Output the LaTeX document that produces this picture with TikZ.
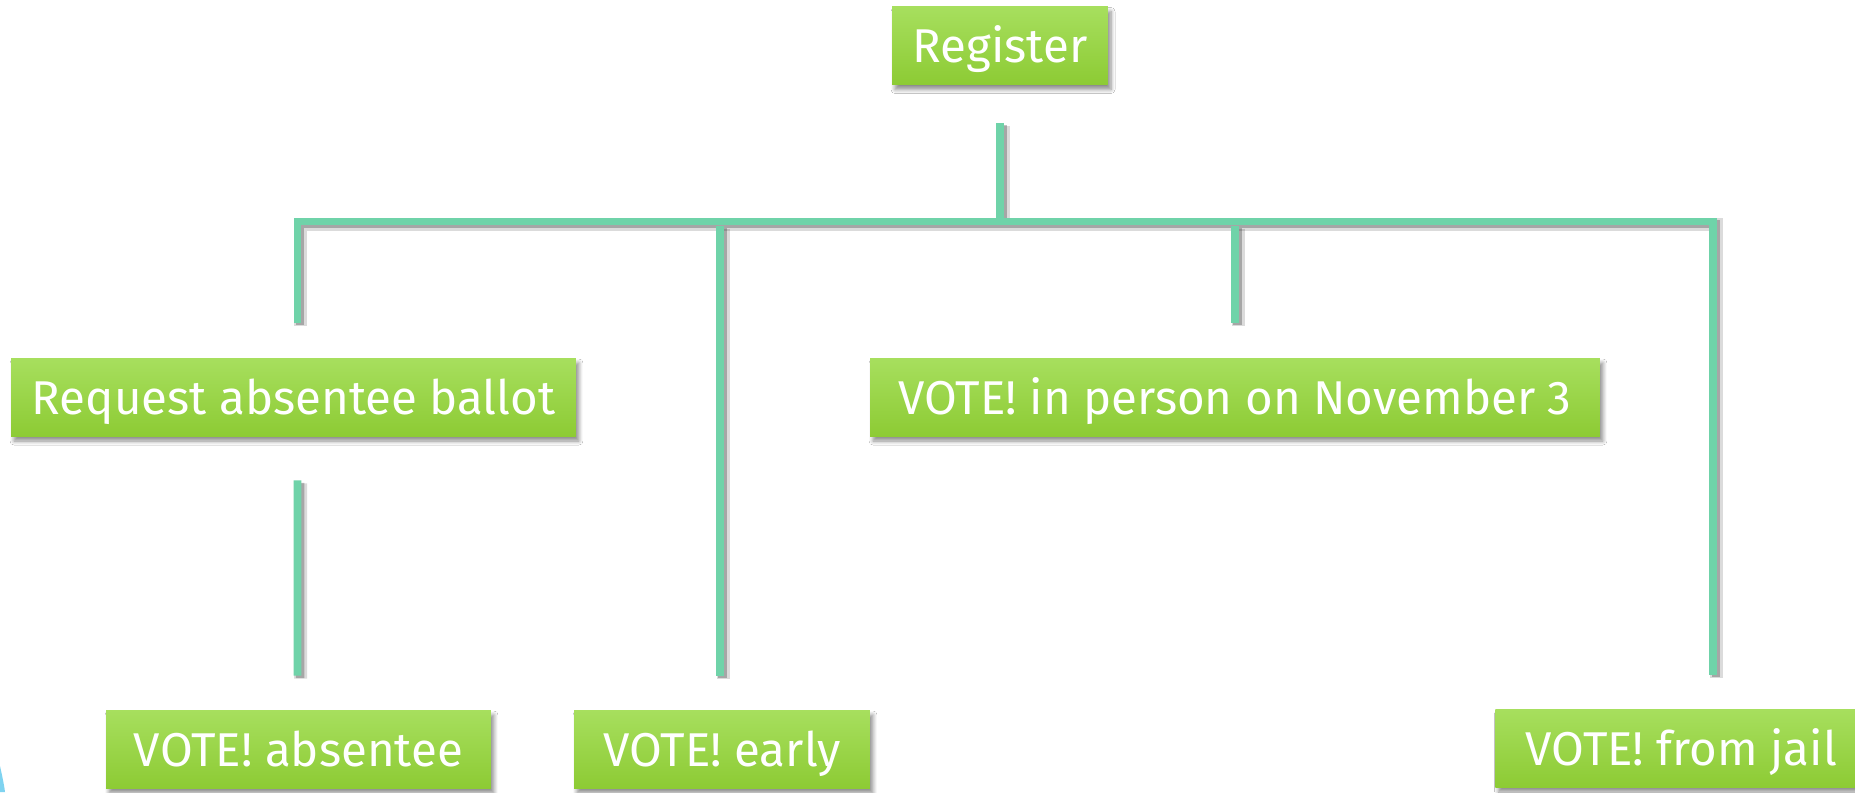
\documentclass[tikz,border=0pt]{standalone}
\usepackage{fontspec}
\setmainfont{Fira Sans}
\usetikzlibrary{shadows.blur}

\definecolor{leafTop}{HTML}{A7DF5E}
\definecolor{leafBottom}{HTML}{8DCB34}
\definecolor{stemGreen}{HTML}{6FD3A9}
\definecolor{skyBlue}{HTML}{7FD3F0}

\tikzset{
    leaf/.style={rectangle, top color=leafTop, bottom color=leafBottom,
        text=white, font=\fontsize{27}{30}\selectfont, minimum height=1.56cm,
        text height=0.68cm, text depth=0pt, inner xsep=0pt,
        blur shadow={shadow xshift=0.06cm, shadow yshift=-0.1cm,
            shadow blur radius=0.08cm, shadow blur steps=6, shadow opacity=45}},
    stem/.style={stemGreen, line width=0.155cm, line join=miter,
        preaction={draw, black, opacity=0.14, line width=0.26cm,
            transform canvas={shift={(0.06cm,-0.06cm)}}},
        preaction={draw, black, opacity=0.24, line width=0.17cm,
            transform canvas={shift={(0.05cm,-0.05cm)}}}},
}

\begin{document}
\begin{tikzpicture}[x=0.02cm, y=-0.02cm]
    \useasboundingbox (0,0) rectangle (1855,792);
    \fill[white] (0,0) rectangle (1855,792);

    %\draw[very thin, gray!30] (0,0) grid[step=100] (1855,792);
    \fill[skyBlue] (0,766) .. controls (2,775) and (4,784) .. (5,792) -- (0,792) -- cycle;

    \node[leaf, minimum width=4.32cm] (register) at (1000,45.5) {Register};
    \node[leaf, minimum width=11.3cm] (absReq) at (293.5,397) {Request absentee ballot};
    \node[leaf, minimum width=14.6cm] (inPerson) at (1235,397) {VOTE! in person on November 3};
    \node[leaf, minimum width=7.7cm] (voteAbs) at (298.5,749) {VOTE! absentee};
    \node[leaf, minimum width=5.92cm] (voteEarly) at (722,749) {VOTE! early};
    \node[leaf, minimum width=7.44cm, anchor=west] (voteJail) at (1495,748) {VOTE! from jail};

    \coordinate (bus) at (1000,221.5);

    \draw[stem, shorten <=0.76cm, shorten >=0.08cm] (register) -- (register |- bus);
    \draw[stem, shorten <=0.7cm, shorten >=0.68cm] ([xshift=0.08cm]absReq.north) |- (bus) -| ([xshift=0.64cm]voteJail.north);
    \draw[stem, shorten <=0.08cm, shorten >=0.7cm] (inPerson |- bus) -- (inPerson);
    \draw[stem, shorten <=0.08cm, shorten >=0.68cm] ([xshift=-0.04cm]voteEarly.north |- bus) -- ([xshift=-0.04cm]voteEarly.north);
    \draw[stem, shorten <=0.88cm, shorten >=0.68cm] ([xshift=0.08cm]absReq.south) -- ([xshift=-0.02cm]voteAbs.north);
\end{tikzpicture}
\end{document}
